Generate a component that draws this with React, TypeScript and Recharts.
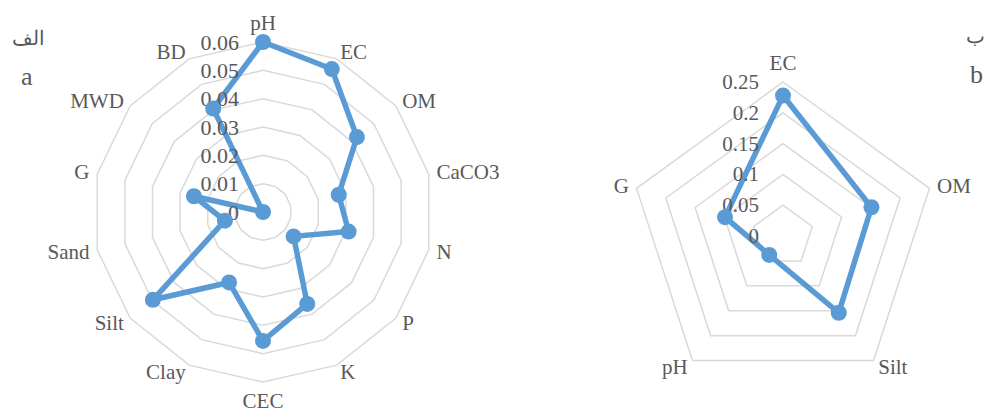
import React from 'react';
import { RadarChart, Radar, PolarGrid, PolarAngleAxis, PolarRadiusAxis } from 'recharts';

const leftCategories = ['pH', 'EC', 'OM', 'CaCO3', 'N', 'P', 'K', 'CEC', 'Clay', 'Silt', 'Sand', 'G', 'MWD', 'BD'];
const leftValues = [0.06, 0.056, 0.0424, 0.0274, 0.031, 0.0138, 0.036, 0.0455, 0.0276, 0.0497, 0.0138, 0.025, 0, 0.0405];
const leftTicks = [0, 0.01, 0.02, 0.03, 0.04, 0.05, 0.06];

const rightCategories = ['EC', 'OM', 'Silt', 'pH', 'G'];
const rightValues = [0.228, 0.151, 0.154, 0.038, 0.099];
const rightTicks = [0, 0.05, 0.1, 0.15, 0.2, 0.25];

const BLUE = '#5b9bd5';
const TEXT = '#595959';
const FONT = '"Liberation Serif", "Times New Roman", serif';

const leftData = leftCategories.map((name, i) => ({ name, value: leftValues[i] }));
const rightData = rightCategories.map((name, i) => ({ name, value: rightValues[i] }));

const fmt = (v: number) => String(Number(Number(v).toFixed(2)));

// labels sit just outside the outer ring, like Excel does it
const makeAngleTick = (labelR: number) => (props: any) => {
  const { x, y, cx, cy, payload } = props;
  const dx = x - cx;
  const dy = y - cy;
  const len = Math.sqrt(dx * dx + dy * dy) || 1;
  const ux = dx / len;
  const uy = dy / len;
  const anchor = ux > 0.1 ? 'start' : ux < -0.1 ? 'end' : 'middle';
  const px = cx + ux * labelR;
  const py = cy + uy * labelR + (anchor === 'middle' ? uy * 11 : 0);
  return (
    <text x={px} y={py} textAnchor={anchor} dominantBaseline="central" fontSize={21} fontFamily={FONT} fill={TEXT}>
      {payload.value}
    </text>
  );
};

const makeRadiusTick = (size: number) => (props: any) => {
  const { x, y, payload } = props;
  return (
    <text x={x - 24} y={y} textAnchor="end" dominantBaseline="central" fontSize={size} fontFamily={FONT} fill={TEXT}>
      {fmt(payload.value)}
    </text>
  );
};

export default function App() {
  return (
    <div style={{ position: 'absolute', left: 0, top: 0, width: 986, height: 412, background: '#fff', overflow: 'hidden', fontFamily: FONT, color: TEXT }}>
      <div style={{ position: 'absolute', left: 12, top: 24, fontSize: 20, lineHeight: '28px' }}>الف</div>
      <div style={{ position: 'absolute', left: 21, top: 62, fontSize: 26, lineHeight: '30px' }}>a</div>
      <div style={{ position: 'absolute', left: 966, top: 22, fontSize: 20, lineHeight: '28px' }}>ب</div>
      <div style={{ position: 'absolute', left: 970, top: 60, fontSize: 26, lineHeight: '30px' }}>b</div>

      <div style={{ position: 'absolute', left: 0, top: 0 }}>
        <RadarChart width={520} height={412} data={leftData} cx={263} cy={212} outerRadius={170} margin={{ top: 0, right: 0, bottom: 0, left: 0 }}>
          <PolarGrid gridType="polygon" radialLines={false} stroke="#d9d9d9" strokeWidth={1.5} />
          <PolarAngleAxis dataKey="name" tick={makeAngleTick(178)} tickLine={false} axisLine={false} />
          <PolarRadiusAxis angle={90} domain={[0, 0.06]} ticks={leftTicks as any} tickCount={7} axisLine={false} tick={makeRadiusTick(22)} />
          <Radar dataKey="value" stroke={BLUE} strokeWidth={5.5} fill="none" fillOpacity={0} isAnimationActive={false}
            dot={{ r: 8, fill: BLUE, stroke: BLUE, strokeWidth: 0, fillOpacity: 1 }} />
        </RadarChart>
      </div>

      <div style={{ position: 'absolute', left: 590, top: 0 }}>
        <RadarChart width={396} height={412} data={rightData} cx={193} cy={236} outerRadius={154} margin={{ top: 0, right: 0, bottom: 0, left: 0 }}>
          <PolarGrid gridType="polygon" radialLines={false} stroke="#d9d9d9" strokeWidth={1.5} />
          <PolarAngleAxis dataKey="name" tick={makeAngleTick(162)} tickLine={false} axisLine={false} />
          <PolarRadiusAxis angle={90} domain={[0, 0.25]} ticks={rightTicks as any} tickCount={6} axisLine={false} tick={makeRadiusTick(21)} />
          <Radar dataKey="value" stroke={BLUE} strokeWidth={5.5} fill="none" fillOpacity={0} isAnimationActive={false}
            dot={{ r: 8, fill: BLUE, stroke: BLUE, strokeWidth: 0, fillOpacity: 1 }} />
        </RadarChart>
      </div>
    </div>
  );
}
